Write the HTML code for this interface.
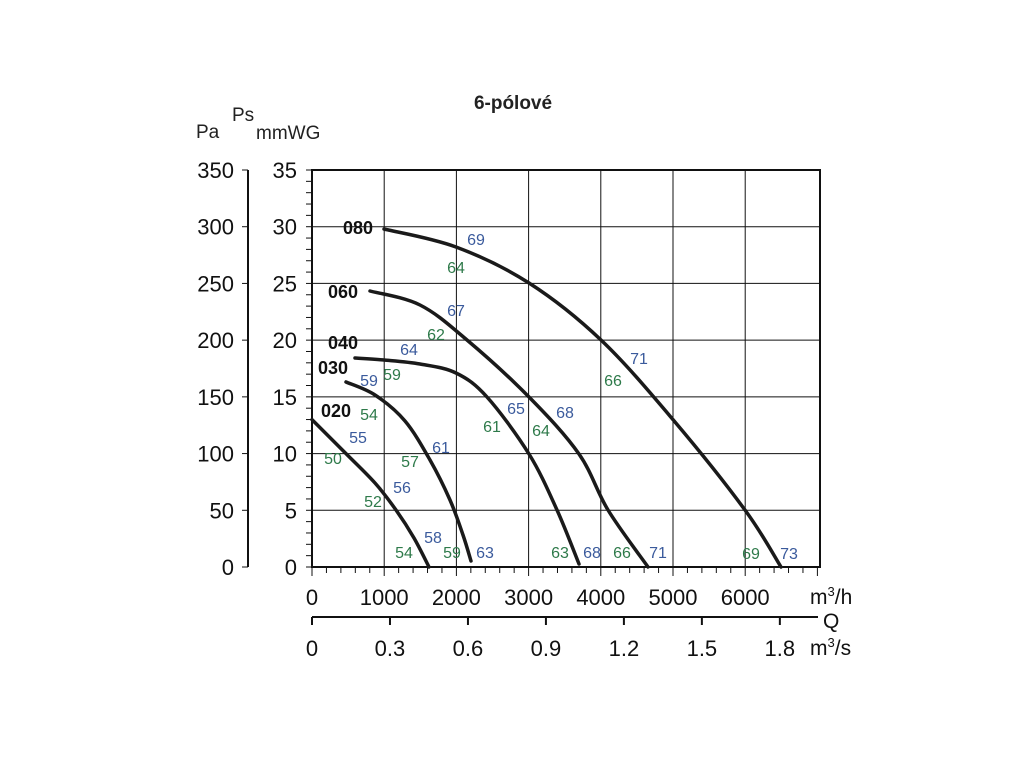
<!DOCTYPE html>
<html><head><meta charset="utf-8"><style>
html,body{margin:0;padding:0;background:#fff;}
svg{display:block;font-family:"Liberation Sans",Arial,sans-serif;}
.g{fill:#2e7a4a;font-size:16px;text-anchor:middle;}
.b{fill:#3a5a9c;font-size:16px;text-anchor:middle;}
.n{fill:#111;font-size:18px;font-weight:bold;text-anchor:middle;}
.t{fill:#111;font-size:21px;}
</style></head><body>
<svg id="s" width="1024" height="768" viewBox="0 0 1024 768" xmlns="http://www.w3.org/2000/svg">
<g id="grid" stroke="#111" stroke-width="1"></g>
<rect x="312" y="170" width="508" height="397" fill="none" stroke="#111" stroke-width="2"/>
<g id="curves" fill="none" stroke="#1a1a1a" stroke-width="3.5" stroke-linecap="round"></g>
<text x="513" y="109" font-size="19" font-weight="bold" text-anchor="middle" fill="#222">6-pólové</text>
<text x="196" y="138" font-size="19" fill="#222">Pa</text>
<text x="232" y="121" font-size="19" fill="#222">Ps</text>
<text x="256" y="139" font-size="19" fill="#222">mmWG</text>
<g id="lbl"></g>
<g>
<text class="n" x="358" y="234">080</text>
<text class="n" x="343" y="298">060</text>
<text class="n" x="343" y="349">040</text>
<text class="n" x="333" y="374">030</text>
<text class="n" x="336" y="417">020</text>
</g>
<g>
<text class="b" x="476" y="245">69</text><text class="g" x="456" y="273">64</text>
<text class="b" x="456" y="316">67</text><text class="g" x="436" y="340">62</text>
<text class="b" x="409" y="355">64</text><text class="b" x="369" y="386">59</text>
<text class="g" x="392" y="380">59</text><text class="b" x="639" y="364">71</text>
<text class="g" x="613" y="386">66</text><text class="b" x="516" y="414">65</text>
<text class="b" x="565" y="418">68</text><text class="g" x="492" y="432">61</text>
<text class="g" x="541" y="436">64</text><text class="g" x="369" y="420">54</text>
<text class="b" x="358" y="443">55</text><text class="b" x="441" y="453">61</text>
<text class="g" x="333" y="464">50</text><text class="g" x="410" y="467">57</text>
<text class="b" x="402" y="493">56</text><text class="g" x="373" y="507">52</text>
<text class="b" x="433" y="543">58</text><text class="g" x="404" y="558">54</text>
<text class="g" x="452" y="558">59</text><text class="b" x="485" y="558">63</text>
<text class="g" x="560" y="558">63</text><text class="b" x="592" y="558">68</text>
<text class="g" x="622" y="558">66</text><text class="b" x="658" y="558">71</text>
<text class="g" x="751" y="559">69</text><text class="b" x="789" y="559">73</text>
</g>
<text class="t" x="810" y="604">m<tspan font-size="13" dy="-8">3</tspan><tspan dy="8">/h</tspan></text>
<text class="t" x="823" y="628">Q</text>
<text class="t" x="810" y="655">m<tspan font-size="13" dy="-8">3</tspan><tspan dy="8">/s</tspan></text>
</svg>
<script>
var NS="http://www.w3.org/2000/svg",s=document.getElementById('s');
function el(p,n,a,t){var e=document.createElementNS(NS,n);for(var k in a)e.setAttribute(k,a[k]);if(t!=null)e.textContent=t;p.appendChild(e);return e;}
var g=document.getElementById('grid'),L=document.getElementById('lbl');
function X(q){return 312+q*0.0722;}function Y(p){return 567-p*11.343;}
for(var i=1;i<=6;i++){el(g,'line',{x1:X(i*1000),y1:170,x2:X(i*1000),y2:567});}
for(var p=5;p<35;p+=5){el(g,'line',{x1:312,y1:Y(p),x2:820,y2:Y(p)});}
for(var p=0;p<=35;p++){el(g,'line',{x1:306,y1:Y(p),x2:312,y2:Y(p)});}
for(var q=0;q<=7000;q+=200){var x=X(q);if(x>820)break;el(g,'line',{x1:x,y1:567,x2:x,y2:(q%1000?573:576)});}
for(var p=0;p<=35;p+=5){el(L,'text',{x:297,y:Y(p)+8,'text-anchor':'end','font-size':22,fill:'#111'},String(p));
 el(g,'line',{x1:242,y1:Y(p),x2:248,y2:Y(p)});
 el(L,'text',{x:234,y:Y(p)+8,'text-anchor':'end','font-size':22,fill:'#111'},String(p*10));}
el(g,'line',{x1:248,y1:Y(35),x2:248,y2:Y(0),'stroke-width':2});
for(var q=0;q<=6000;q+=1000)el(L,'text',{x:X(q),y:605,'text-anchor':'middle','font-size':22,fill:'#111'},String(q));
el(g,'line',{x1:312,y1:617,x2:818,y2:617,'stroke-width':2});
var qs=['0','0.3','0.6','0.9','1.2','1.5','1.8'];
for(var i=0;i<7;i++){var x=X(i*1080);el(g,'line',{x1:x,y1:617,x2:x,y2:625,'stroke-width':2});
 el(L,'text',{x:x,y:656,'text-anchor':'middle','font-size':22,fill:'#111'},qs[i]);}
var C=[
[[384,229],[456,247],[529,283],[601,340],[673,419.6],[745,510],[781,567]],
[[370,291],[420,305],[467,340],[529,397],[579,454],[608,510],[648,567]],
[[355,358],[384,360],[420,364],[456,373],[487,397],[529,454],[557,510],[579,564]],
[[346,382],[375,395],[405,421],[430,460],[450,500],[463,535],[471,561]],
[[312,419.6],[346,453.6],[375,483],[396,510],[414,538],[429,567]]];
var cg=document.getElementById('curves');
C.forEach(function(P){var d='M'+P[0][0]+','+P[0][1];
 for(var i=0;i<P.length-1;i++){var p0=P[i-1]||P[i],p1=P[i],p2=P[i+1],p3=P[i+2]||P[i+1];
  d+=' C'+(p1[0]+(p2[0]-p0[0])/6)+','+(p1[1]+(p2[1]-p0[1])/6)+' '+(p2[0]-(p3[0]-p1[0])/6)+','+(p2[1]-(p3[1]-p1[1])/6)+' '+p2[0]+','+p2[1];}
 el(cg,'path',{d:d});});
</script>
</body></html>
